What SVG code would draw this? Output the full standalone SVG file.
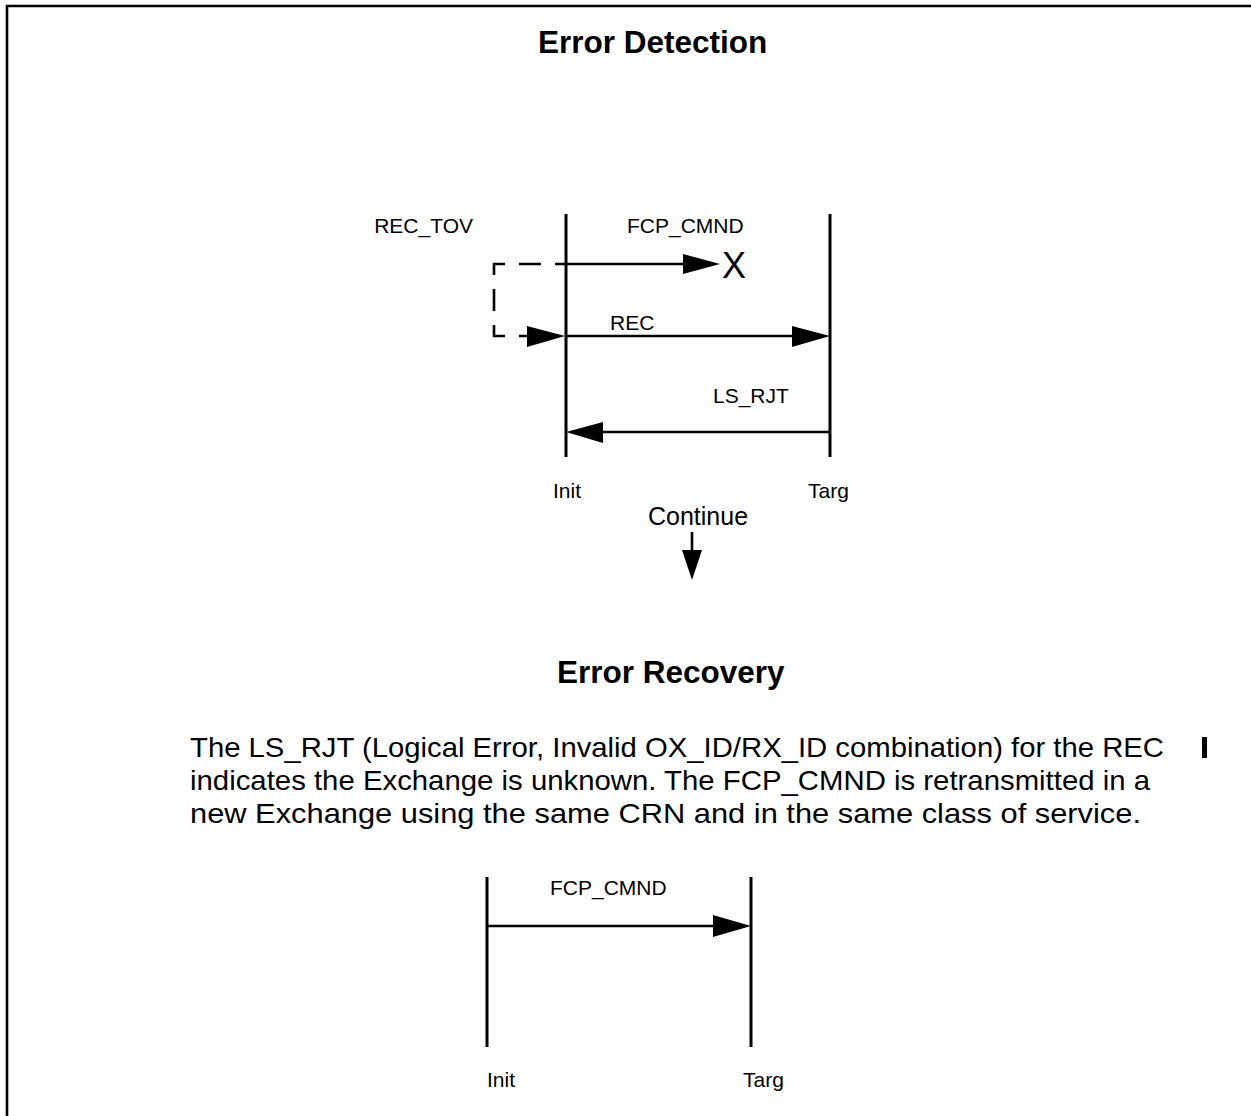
<svg xmlns="http://www.w3.org/2000/svg" width="1251" height="1116" viewBox="0 0 1251 1116">
<style>
  .t { font-family: "Liberation Sans", Arial, sans-serif; fill: #000; }
  .lbl { font-size: 21px; }
  .title { font-size: 31.5px; font-weight: bold; }
  .body { font-size: 28px; }
  .life { stroke: #000; stroke-width: 3; fill: none; }
  .msg { stroke: #000; stroke-width: 2.6; fill: none; }
  .dash { stroke: #000; stroke-width: 2.6; fill: none; stroke-dasharray: 22 14; stroke-dashoffset: 22; }
  .head { fill: #000; stroke: none; }
</style>
<rect width="1251" height="1116" fill="#fff"/>
<path d="M7,1116 V6 H1251" stroke="#000" stroke-width="2.6" fill="none"/>

<text class="t title" x="538" y="53">Error Detection</text>

<g id="init1">
  <line class="life" x1="566" y1="214" x2="566" y2="457"/>
  <text class="t lbl" x="553" y="498">Init</text>
</g>
<g id="targ1">
  <line class="life" x1="830" y1="214" x2="830" y2="457"/>
  <text class="t lbl" x="808" y="498">Targ</text>
</g>
<g id="rectov">
  <text class="t lbl" x="473" y="233" text-anchor="end">REC_TOV</text>
</g>
<g id="lost">
  <text class="t" x="722" y="278" style="font-size:36px">X</text>
</g>

<g id="connectors">
  <path class="dash" d="M555,264 L494,264 L494,336 L527,336"/>
  <line class="msg" x1="555" y1="264" x2="685" y2="264"/>
  <polygon class="head" points="683,254 720,264 683,274"/>
  <text class="t lbl" x="627" y="233">FCP_CMND</text>

  <polygon class="head" points="527,326 565,336 527,347"/>
  <line class="msg" x1="566" y1="336" x2="794" y2="336"/>
  <polygon class="head" points="792,326 830,336 792,347"/>
  <text class="t lbl" x="610" y="330">REC</text>

  <line class="msg" x1="830" y1="432" x2="601" y2="432"/>
  <polygon class="head" points="603,422 566,432 603,443"/>
  <text class="t lbl" x="713" y="403">LS_RJT</text>

  <line class="msg" x1="692" y1="532" x2="692" y2="552"/>
  <polygon class="head" points="682,550 702,550 692,580"/>

  <line class="msg" x1="487" y1="926" x2="715" y2="926"/>
  <polygon class="head" points="713,915 751,926 713,937"/>
  <text class="t lbl" x="550" y="895">FCP_CMND</text>
</g>

<text class="t" x="648" y="525" style="font-size:25px">Continue</text>

<text class="t title" x="557" y="683">Error Recovery</text>

<g id="desc">
  <text class="t body" x="190" y="757" textLength="974" lengthAdjust="spacingAndGlyphs">The LS_RJT (Logical Error, Invalid OX_ID/RX_ID combination) for the REC</text>
  <text class="t body" x="190" y="790" textLength="960" lengthAdjust="spacingAndGlyphs">indicates the Exchange is unknown. The FCP_CMND is retransmitted in a</text>
  <text class="t body" x="190" y="823" textLength="951" lengthAdjust="spacingAndGlyphs">new Exchange using the same CRN and in the same class of service.</text>
</g>
<rect x="1202" y="737" width="5" height="21" fill="#000"/>

<g id="init2">
  <line class="life" x1="487" y1="877" x2="487" y2="1047"/>
  <text class="t lbl" x="487" y="1087">Init</text>
</g>
<g id="targ2">
  <line class="life" x1="751" y1="877" x2="751" y2="1047"/>
  <text class="t lbl" x="743" y="1087">Targ</text>
</g>
</svg>
